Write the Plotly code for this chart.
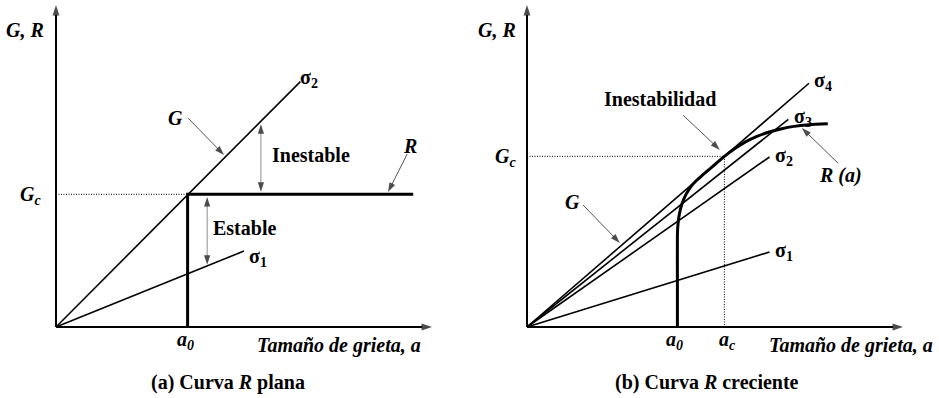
import plotly.graph_objects as go

SERIF = "Liberation Serif, Times New Roman, Times, serif"
INK = "black"
SHAFT = "#8c8c8c"
LEADER = "#555555"

# ---------------- figure geometry ----------------
FIG_W, FIG_H = 939, 398
PX_PER_A = 37.6          # pixels per unit of crack size
PX_PER_G = 32.2          # pixels per unit of G / R
ORIGIN_TOP = 327         # pixel row of the crack-size axis
ORIGIN_LEFT = [56, 527]  # pixel column of each panel's origin
AXIS_A = 10.0            # length of the crack-size axis
AXIS_G = 10.0            # length of the G, R axis

# ---------------- (a) flat R-curve ----------------
A_A0 = 3.5
A_GC = 4.12
A_R_A = [A_A0, A_A0, 9.5]
A_R_G = [0.0, A_GC, A_GC]
A_SIGMA_NAMES = ["σ<sub>1</sub>", "σ<sub>2</sub>"]
A_SIGMA_A_END = [5.0, 6.5]
A_SIGMA_G_END = [2.36, 7.62]
A_UNSTABLE_A = 5.45
A_UNSTABLE_G = [6.3, 4.2]
A_STABLE_A = 4.02
A_STABLE_G = [4.04, 1.93]

# ---------------- (b) rising R-curve ----------------
B_A0 = 4.0
B_AC = 5.25
B_GC = 5.3
B_SIGMA_NAMES = ["σ<sub>1</sub>", "σ<sub>2</sub>", "σ<sub>3</sub>", "σ<sub>4</sub>"]
B_SIGMA_A_END = [6.45, 6.45, 6.95, 7.5]
B_SIGMA_G_END = [2.33, 5.28, 6.45, 7.57]
B_R_A = [4.0, 4.0, 4.0, 4.01, 4.04, 4.09, 4.16, 4.25, 4.36, 4.5, 4.66, 4.84,
         5.04, 5.25, 5.5, 5.8, 6.1, 6.4, 6.75, 7.1, 7.5, 8.0]
B_R_G = [0.0, 1.5, 2.8, 3.12, 3.42, 3.7, 3.95, 4.16, 4.36, 4.54, 4.71, 4.89,
         5.09, 5.3, 5.52, 5.74, 5.91, 6.04, 6.15, 6.23, 6.28, 6.31]

PANEL_A = ("x", "y")
PANEL_B = ("x2", "y2")

fig = go.Figure()


def line(ref, xs, ys, width=1.6, color=INK, dash=None, shape="linear"):
    fig.add_trace(go.Scatter(
        x=xs, y=ys, xaxis=ref[0], yaxis=ref[1], mode="lines",
        line=dict(color=color, width=width, dash=dash, shape=shape, smoothing=0.7),
        hoverinfo="skip", showlegend=False,
    ))


def arrow(ref, tail, tip, width=1, color=LEADER, head=10):
    # straight shaft from tail to tip, black arrowhead marker at the tip
    fig.add_trace(go.Scatter(
        x=[tail[0], tip[0]], y=[tail[1], tip[1]], xaxis=ref[0], yaxis=ref[1],
        mode="lines+markers",
        line=dict(color=color, width=width),
        marker=dict(symbol="arrow", size=[0, head], angleref="previous",
                    color=INK, line=dict(width=0)),
        hoverinfo="skip", showlegend=False,
    ))


annotations = []


def text(ref, x, y, s, xanchor="center", italic=False, size=20):
    annotations.append(dict(
        xref=ref[0], yref=ref[1], x=x, y=y, text=s, showarrow=False,
        xanchor=xanchor, yanchor="middle",
        font=dict(family=SERIF, size=size, color=INK, weight="bold",
                  style="italic" if italic else "normal"),
    ))


def double_arrow(ref, a, g_top, g_bottom):
    mid = (g_top + g_bottom) / 2
    arrow(ref, (a, mid), (a, g_top), color=SHAFT)
    arrow(ref, (a, mid), (a, g_bottom), color=SHAFT)


def axes(ref):
    arrow(ref, (0.0, 0.0), (AXIS_A, 0.0), width=2, color=INK, head=11)
    arrow(ref, (0.0, 0.0), (0.0, AXIS_G), width=2, color=INK, head=11)


# ================= panel (a) =================
line(PANEL_A, [0, A_A0], [A_GC, A_GC], width=1, dash="1px,1.5px")
for a_end, g_end in zip(A_SIGMA_A_END, A_SIGMA_G_END):
    line(PANEL_A, [0, a_end], [0, g_end])
line(PANEL_A, A_R_A, A_R_G, width=3)
double_arrow(PANEL_A, A_UNSTABLE_A, *A_UNSTABLE_G)
double_arrow(PANEL_A, A_STABLE_A, *A_STABLE_G)
arrow(PANEL_A, (3.51, 6.49), (4.47, 5.34))
arrow(PANEL_A, (9.34, 5.37), (8.83, 4.19))
axes(PANEL_A)

text(PANEL_A, -0.82, 9.22, "G, R", italic=True)
text(PANEL_A, -0.35, A_GC - 0.05, "G<sub>c</sub>", xanchor="right", italic=True)
text(PANEL_A, A_A0 - 0.05, -0.42, "a<sub>0</sub>", italic=True)
text(PANEL_A, 9.76, -0.58, "Tamaño de grieta, a", xanchor="right", italic=True)
text(PANEL_A, 4.57, -1.71, "(a) Curva <i>R</i> plana")
text(PANEL_A, 6.44, 7.73, A_SIGMA_NAMES[1], xanchor="left")
text(PANEL_A, 5.08, 2.17, A_SIGMA_NAMES[0], xanchor="left")
text(PANEL_A, 3.18, 6.48, "G", italic=True)
text(PANEL_A, 6.77, 5.33, "Inestable")
text(PANEL_A, 9.41, 5.62, "R", italic=True)
text(PANEL_A, 5.0, 3.09, "Estable")

# ================= panel (b) =================
line(PANEL_B, [0, B_AC, B_AC], [B_GC, B_GC, 0], width=1, dash="1px,1.5px")
for a_end, g_end in zip(B_SIGMA_A_END, B_SIGMA_G_END):
    line(PANEL_B, [0, a_end], [0, g_end])
line(PANEL_B, B_R_A, B_R_G, width=3, shape="spline")
arrow(PANEL_B, (4.15, 6.58), (5.13, 5.50))
arrow(PANEL_B, (8.27, 5.09), (7.31, 6.18))
arrow(PANEL_B, (1.49, 3.79), (2.47, 2.61))
axes(PANEL_B)

text(PANEL_B, -0.80, 9.22, "G, R", italic=True)
text(PANEL_B, -0.24, B_GC - 0.05, "G<sub>c</sub>", xanchor="right", italic=True)
text(PANEL_B, 1.22, 3.88, "G", italic=True)
for name, a_lbl, g_lbl in zip(B_SIGMA_NAMES, [6.54, 6.54, 7.05, 7.58], [2.33, 5.28, 6.52, 7.61]):
    text(PANEL_B, a_lbl, g_lbl, name, xanchor="left")
text(PANEL_B, 3.54, 7.08, "Inestabilidad")
text(PANEL_B, 8.35, 4.72, "R (a)", italic=True)
text(PANEL_B, B_A0 - 0.08, -0.42, "a<sub>0</sub>", italic=True)
text(PANEL_B, B_AC + 0.08, -0.42, "a<sub>c</sub>", italic=True)
text(PANEL_B, 10.85, -0.58, "Tamaño de grieta, a", xanchor="right", italic=True)
text(PANEL_B, 4.78, -1.71, "(b) Curva <i>R</i> creciente")

# ---------------- axes placement ----------------
half = FIG_W / 2


def a_range(left_px, origin_px, right_px):
    return [(left_px - origin_px) / PX_PER_A, (right_px - origin_px) / PX_PER_A]


g_range = [-(FIG_H - ORIGIN_TOP) / PX_PER_G, ORIGIN_TOP / PX_PER_G]
hidden = dict(visible=False, fixedrange=True)

fig.update_layout(
    width=FIG_W, height=FIG_H,
    margin=dict(l=0, r=0, t=0, b=0),
    paper_bgcolor="white", plot_bgcolor="white",
    font=dict(family=SERIF, size=20, color=INK),
    xaxis=dict(domain=[0, 0.5], range=a_range(0, ORIGIN_LEFT[0], half), anchor="y", **hidden),
    yaxis=dict(domain=[0, 1], range=g_range, anchor="x", **hidden),
    xaxis2=dict(domain=[0.5, 1], range=a_range(half, ORIGIN_LEFT[1], FIG_W), anchor="y2", **hidden),
    yaxis2=dict(domain=[0, 1], range=g_range, anchor="x2", **hidden),
    annotations=annotations,
    showlegend=False,
)

fig.write_html("out.html")
